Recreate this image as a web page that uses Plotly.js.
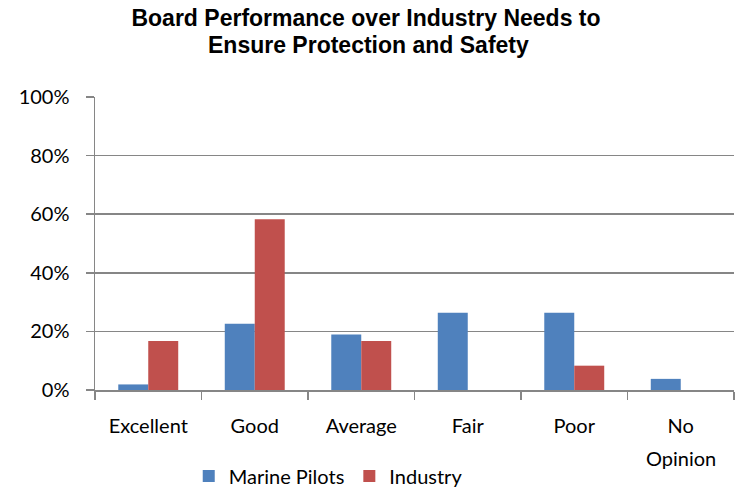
<!DOCTYPE html>
<html>
<head>
<meta charset="utf-8">
<script src="https://cdn.plot.ly/plotly-3.0.1.min.js"></script>
<style>html,body{margin:0;padding:0;background:#fff;}#chart{width:739px;height:492px;}</style>
</head>
<body>
<div id="chart"></div>
<script>
const categories = ["Excellent", "Good", "Average", "Fair", "Poor", "No Opinion"];
const tickLine1 = ["Excellent", "Good", "Average", "Fair", "Poor", "No"];
const tickLine2 = ["", "", "", "", "", "Opinion"];
const seriesNames = ["Marine Pilots", "Industry"];
const marinePilots = [0.019, 0.226, 0.189, 0.264, 0.264, 0.038];
const industry = [0.167, 0.583, 0.167, 0, 0.083, 0];
const yTicks = [0, 0.2, 0.4, 0.6, 0.8, 1.0];
const yTickLabels = ["0%", "20%", "40%", "60%", "80%", "100%"];
const titleLines = ["Board Performance over Industry Needs to", "Ensure Protection and Safety"];

const labelFont = {family: "Lato, 'Open Sans', sans-serif", size: 20, color: "#000"};
const titleFont = {family: "Arial, 'Liberation Sans', sans-serif", size: 23, color: "#000"};
const grid = "#868686";

const data = [
  {type: "bar", name: seriesNames[0], x: categories, y: marinePilots, marker: {color: "#4F81BD"}},
  {type: "bar", name: seriesNames[1], x: categories, y: industry, marker: {color: "#C0504D"}}
];

const annotations = [
  {text: "<b>" + titleLines[1] + "</b>", xref: "paper", yref: "paper",
   x: (368 - 95) / 639, y: (390 - 45.5) / 293, xanchor: "center", yanchor: "middle",
   showarrow: false, font: titleFont}
];
tickLine2.forEach((t, i) => {
  if (t) annotations.push({text: t, xref: "x", yref: "paper", x: categories[i],
    y: (390 - 458) / 293, xanchor: "center", yanchor: "middle", showarrow: false, font: labelFont});
});

const layout = {
  width: 739, height: 492,
  margin: {l: 95, r: 5, t: 97, b: 102, autoexpand: false},
  paper_bgcolor: "#fff", plot_bgcolor: "#fff",
  title: {
    text: "<b>" + titleLines[0] + "</b>",
    font: titleFont, automargin: false,
    x: 366/739, xanchor: "center", y: 1 - 18/492, yanchor: "middle"
  },
  annotations: annotations,
  barmode: "group", bargap: 0.437, bargroupgap: 0,
  xaxis: {
    tickmode: "array", tickvals: categories, ticktext: tickLine1, automargin: false,
    tickfont: labelFont, showline: true, linecolor: grid, linewidth: 1.5,
    ticks: "outside", tickson: "boundaries", ticklen: 8, tickcolor: grid, tickwidth: 1.5,
    showgrid: false, fixedrange: true, ticklabelstandoff: 17
  },
  yaxis: {
    range: [0, 1], tickvals: yTicks, ticktext: yTickLabels, tickfont: labelFont, automargin: false,
    showline: true, linecolor: grid, linewidth: 1.5,
    ticks: "outside", ticklen: 8, tickcolor: grid, tickwidth: 1.5,
    gridcolor: grid, gridwidth: 1.5, zeroline: false, ticklabelstandoff: 12
  },
  legend: {
    orientation: "h", x: 0.365, xanchor: "center", y: (390 - 476) / 293, yanchor: "middle",
    font: labelFont, itemwidth: 30, traceorder: "normal"
  },
  showlegend: true
};

Plotly.newPlot("chart", data, layout, {displayModeBar: false, staticPlot: true});
</script>
</body>
</html>
